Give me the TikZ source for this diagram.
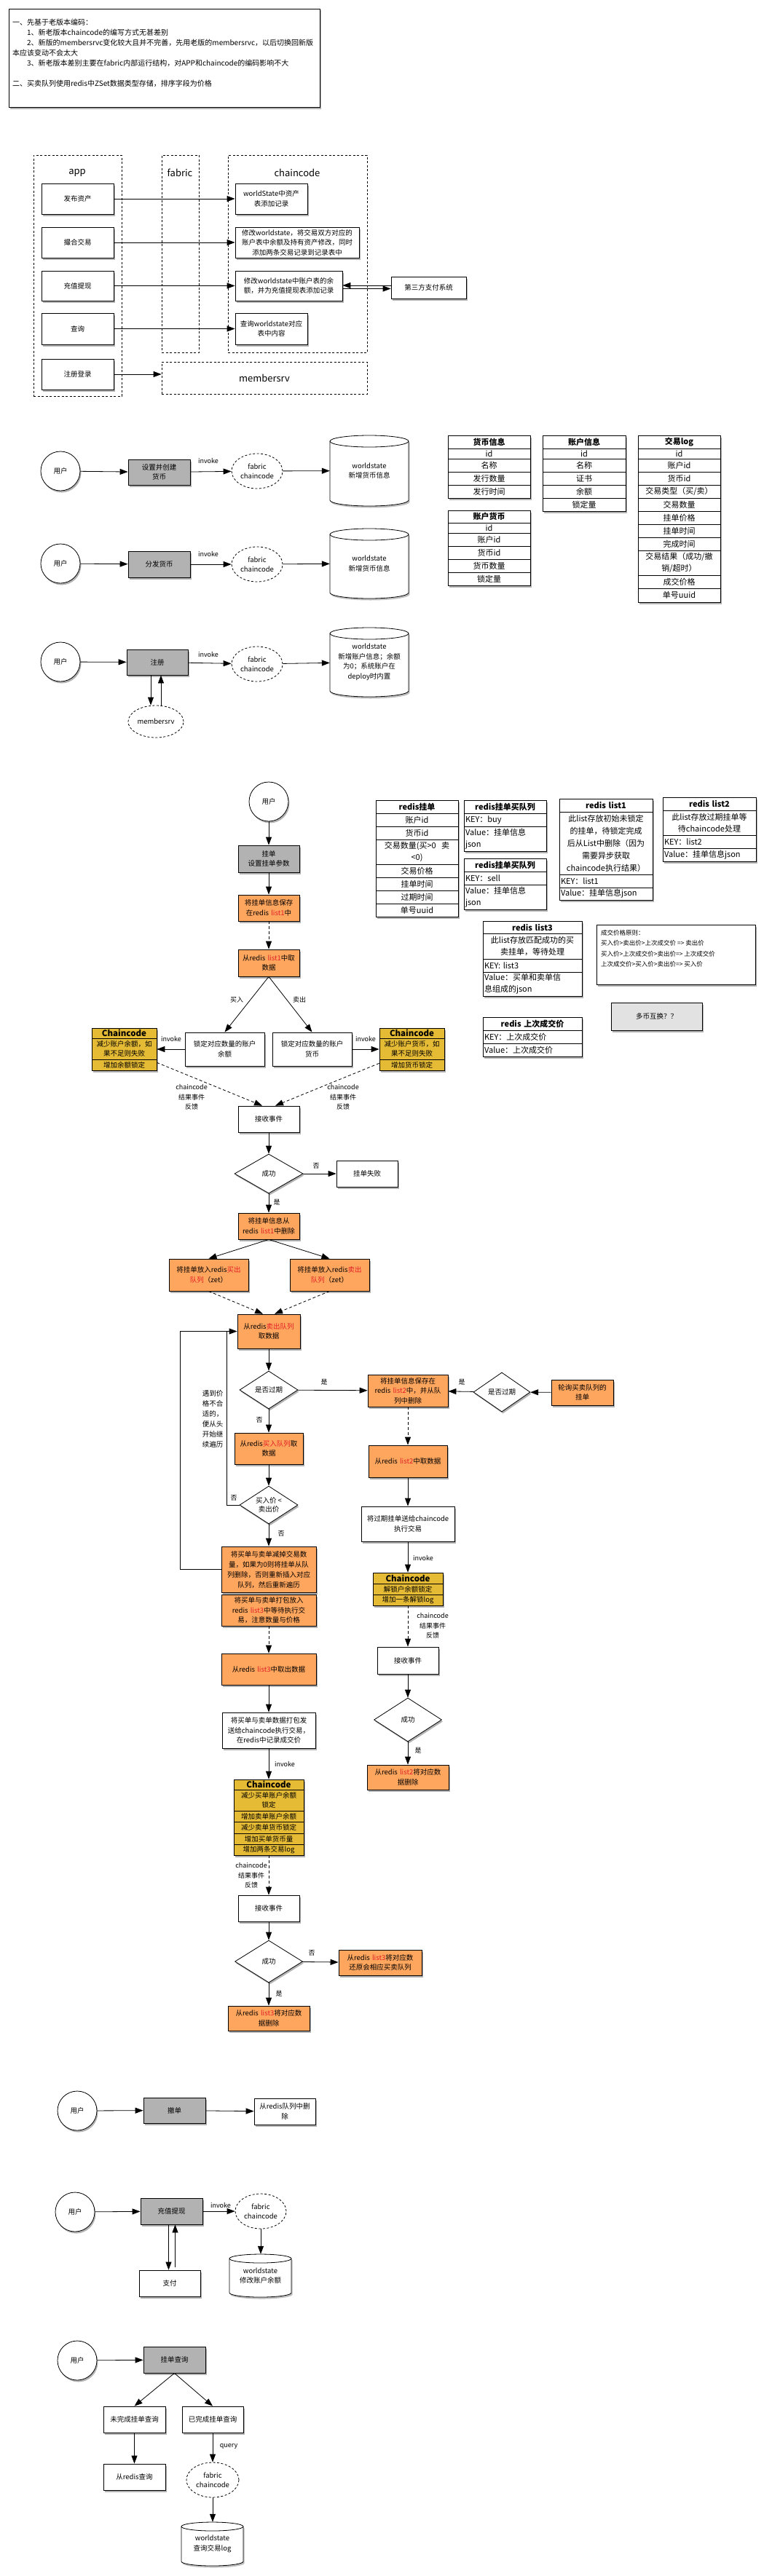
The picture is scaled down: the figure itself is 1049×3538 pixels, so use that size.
\documentclass[tikz,border=0pt]{standalone}
\usepackage{fontspec}
\setmainfont{Noto Sans CJK SC}
\usetikzlibrary{arrows.meta,shapes.geometric,shadows}
\definecolor{orng}{RGB}{255,166,94}
\definecolor{gld}{RGB}{229,186,52}
\definecolor{gryf}{RGB}{178,178,178}
\definecolor{lgry}{RGB}{226,226,226}
\definecolor{redt}{RGB}{226,30,38}
\newcommand\fsz[2]{\fontsize{#1}{#2}\selectfont}
\newcommand\rd[1]{\textcolor{redt}{#1}}
\newcommand\nd[7][]{%
  \pgfmathsetmacro\ndw{#5-(#3)}%
  \pgfmathsetmacro\ndh{#6-(#4)}%
  \pgfmathsetmacro\ndtw{#5-(#3)-4}%
  \node[#1, minimum width=\ndw pt, minimum height=\ndh pt, text width=\ndtw pt] (#2) at ({(#3+#5)/2},{(#4+#6)/2}) {#7};%
}
\newcommand\cyl[7]{%
  \pgfmathsetmacro\cyrx{(#4-(#2))/2}%
  \pgfmathsetmacro\cyyt{#3+#6}\pgfmathsetmacro\cyyb{#5-#6}%
  \fill[black,opacity=0.25] (#2+1.5,\cyyt+2.5) -- (#2+1.5,\cyyb+2.5) arc[start angle=180,end angle=0,x radius=\cyrx,y radius=#6] -- (#4+1.5,\cyyt+2.5) arc[start angle=0,end angle=-180,x radius=\cyrx,y radius=#6] -- cycle;
  \draw[line width=0.8pt,fill=white] (#2,\cyyt) -- (#2,\cyyb) arc[start angle=180,end angle=0,x radius=\cyrx,y radius=#6] -- (#4,\cyyt) arc[start angle=0,end angle=-180,x radius=\cyrx,y radius=#6] -- cycle;
  \draw[line width=0.8pt] (#2,\cyyt) arc[start angle=180,end angle=0,x radius=\cyrx,y radius=#6];
  \pgfmathsetmacro\cyw{#4-(#2)}\pgfmathsetmacro\cyh{#5-(#3)}%
  \node[font=\fsz{9.5}{13.5}, align=center, minimum width=\cyw pt, minimum height=\cyh pt, inner sep=0pt] (#1) at ({(#2+#4)/2},{(#3+#5)/2}) {#7};%
}
\tikzset{
  shd/.style={drop shadow={shadow xshift=1.5pt,shadow yshift=-2.5pt,opacity=0.3,fill=black}},
  bx/.style={draw, fill=white, line width=0.8pt, font=\fsz{9.5}{13.5}, align=center, inner xsep=2pt, inner ysep=0pt, shd},
  obx/.style={bx, fill=orng},
  gbx/.style={bx, fill=gryf},
  cont/.style={draw, line width=0.8pt, dash pattern=on 3pt off 2.5pt, inner xsep=2pt, inner ysep=0pt, font=\fsz{13}{16}, align=center},
  cl/.style={draw, fill=white, line width=0.8pt, font=\fsz{11}{16}, align=center, inner xsep=2pt, inner ysep=0pt},
  clh/.style={cl, font=\fsz{11}{16}\bfseries},
  cll/.style={cl, align=left},
  tbg/.style={draw, fill=white, line width=0.8pt, inner xsep=2pt, inner ysep=0pt, shd},
  ccg/.style={tbg, fill=gld},
  cc/.style={cl, fill=gld, font=\fsz{9.5}{13.5}},
  cch/.style={cc, font=\fsz{11.5}{14}\bfseries},
  dia/.style={diamond, aspect=1.5, draw, fill=white, line width=0.8pt, inner sep=0pt, font=\fsz{9.5}{12.5}, align=center, shd},
  fab/.style={ellipse, draw, fill=white, line width=0.8pt, dash pattern=on 3pt off 2.5pt, inner sep=0pt, minimum width=70pt, minimum height=48pt, font=\fsz{9.5}{13}, align=center},
  usr/.style={circle, draw, fill=white, line width=0.8pt, minimum size=54pt, inner sep=0pt, font=\fsz{9.5}{13}, shd},
  lbl/.style={font=\fsz{9}{13.5}, align=center, inner sep=1pt},
  arr/.style={line width=0.8pt, -{Triangle[length=11pt,width=8pt]}},
  darr/.style={arr, dash pattern=on 4pt off 3pt},
}
\begin{document}
\begin{tikzpicture}[x=1pt,y=-1pt]
\useasboundingbox (0,0) rectangle (1049,3538);
\fill[white] (0,0) rectangle (1049,3538);

% ---------- notes ----------
\nd[tbg]{notes}{12}{12}{439}{147}{}
\node[anchor=north west, font=\fsz{10}{14}, align=left, inner sep=0pt] (notestxt) at (17,26) {一、先基于老版本编码：\\
\hspace*{20pt}1、新老版本chaincode的编写方式无甚差别\\
\hspace*{20pt}2、新版的membersrvc变化较大且并不完善，先用老版的membersrvc，以后切换回新版\\
本应该变动不会太大\\
\hspace*{20pt}3、新老版本差别主要在fabric内部运行结构，对APP和chaincode的编码影响不大\\
\mbox{}\\
二、买卖队列使用redis中ZSet数据类型存储，排序字段为价格};

% ---------- architecture ----------
\nd[cont]{appc}{46}{213}{167}{544}{}
\nd[cont]{fabc}{222}{213}{273}{484}{}
\nd[cont]{ccc}{313}{213}{504}{484}{}
\nd[cont]{msrv}{222}{497}{504}{541}{membersrv}
\node[font=\fsz{13}{16}] (applbl) at (106,237) {app};
\node[font=\fsz{13}{16}] (fablbl) at (247,237) {fabric};
\node[font=\fsz{13}{16}] (cclbl) at (408,237) {chaincode};
\nd[bx]{a1}{57}{252}{156}{294}{发布资产}
\nd[bx]{a2}{57}{312}{156}{354}{撮合交易}
\nd[bx]{a3}{57}{372}{156}{413}{充值提现}
\nd[bx]{a4}{57}{430}{156}{473}{查询}
\nd[bx]{a5}{57}{493}{156}{535}{注册登录}
\nd[bx]{k1}{323}{252}{422}{294}{worldState中资产\\表添加记录}
\nd[bx]{k2}{323}{312}{493}{354}{修改worldstate，将交易双方对应的\\账户表中余额及持有资产修改，同时\\添加两条交易记录到记录表中}
\nd[bx]{k3}{323}{372}{470}{413}{修改worldstate中账户表的余\\额，并为充值提现表添加记录}
\nd[bx]{k4}{323}{430}{422}{473}{查询worldstate对应\\表中内容}
\nd[bx]{tp}{537}{380}{640}{410}{第三方支付系统}
\draw[arr] (a1) -- (k1);
\draw[arr] (a2) -- (k2);
\draw[arr] (a3) -- (k3);
\draw[arr] (a4) -- (k4);
\draw[arr] (a5.east) -- (a5.east -| msrv.west);
\coordinate (tpa) at ([yshift=3pt]tp.west);
\draw[arr] (tpa) -- (tpa -| k3.east);
\coordinate (tpb) at ([yshift=-4pt]k3.east);
\draw[arr] (tpb) -- (tpb -| tp.west);

% ---------- three flows ----------
\node[usr] (u1) at (83,647) {用户};
\nd[gbx]{s1}{176}{631}{261}{666}{设置并创建\\货币}
\node[fab] (f1) at (353,647) {fabric\\chaincode};
\cyl{w1}{453}{598}{561}{695}{8}{worldstate\\新增货币信息}
\draw[arr] (u1) -- (s1);
\draw[arr] (s1) -- (f1);
\node[lbl] (inv1) at (286,633) {invoke};
\draw[arr] (f1) -- (w1);

\node[usr] (u2) at (83,774) {用户};
\nd[gbx]{s2}{176}{757}{261}{793}{分发货币}
\node[fab] (f2) at (353,775) {fabric\\chaincode};
\cyl{w2}{453}{726}{561}{822}{8}{worldstate\\新增货币信息}
\draw[arr] (u2) -- (s2);
\draw[arr] (s2) -- (f2);
\node[lbl] (inv2) at (286,761) {invoke};
\draw[arr] (f2) -- (w2);

\node[usr] (u3) at (83,909) {用户};
\nd[gbx]{s3}{174}{892}{258}{927}{注册}
\node[fab] (f3) at (353,912) {fabric\\chaincode};
\cyl{w3}{453}{862}{561}{957}{8}{worldstate\\新增账户信息；余额\\为0；系统账户在\\deploy时内置}
\draw[arr] (u3) -- (s3);
\draw[arr] (s3) -- (f3);
\node[lbl] (inv3) at (286,899) {invoke};
\draw[arr] (f3) -- (w3);
\node[fab, minimum width=76pt, minimum height=44pt] (m3) at (214,991) {membersrv};
\coordinate (s3d) at ([xshift=-9pt]s3.south);
\coordinate (s3u) at ([xshift=5pt]s3.south);
\draw[arr] (s3d) -- (s3d |- m3.north);
\draw[arr] (s3u |- m3.north) -- (s3u);

% ---------- tables ----------
\nd[tbg]{t1}{615}{598}{728}{684}{}
\nd[clh]{t1h}{615}{598}{728}{616}{货币信息}
\nd[cl]{t1a}{615}{616}{728}{630}{id}
\nd[cl]{t1b}{615}{630}{728}{648}{名称}
\nd[cl]{t1c}{615}{648}{728}{666}{发行数量}
\nd[cl]{t1d}{615}{666}{728}{684}{发行时间}

\nd[tbg]{t2}{615}{701}{728}{804}{}
\nd[clh]{t2h}{615}{701}{728}{718}{账户货币}
\nd[cl]{t2a}{615}{718}{728}{732}{id}
\nd[cl]{t2b}{615}{732}{728}{750}{账户id}
\nd[cl]{t2c}{615}{750}{728}{768}{货币id}
\nd[cl]{t2d}{615}{768}{728}{786}{货币数量}
\nd[cl]{t2e}{615}{786}{728}{804}{锁定量}

\nd[tbg]{t3}{745}{598}{859}{702}{}
\nd[clh]{t3h}{745}{598}{859}{616}{账户信息}
\nd[cl]{t3a}{745}{616}{859}{630}{id}
\nd[cl]{t3b}{745}{630}{859}{648}{名称}
\nd[cl]{t3c}{745}{648}{859}{666}{证书}
\nd[cl]{t3d}{745}{666}{859}{684}{余额}
\nd[cl]{t3e}{745}{684}{859}{702}{锁定量}

\nd[tbg]{t4}{876}{598}{989}{827}{}
\nd[clh]{t4h}{876}{598}{989}{616}{交易log}
\nd[cl]{t4a}{876}{616}{989}{630}{id}
\nd[cl]{t4b}{876}{630}{989}{648}{账户id}
\nd[cl]{t4c}{876}{648}{989}{666}{货币id}
\nd[cl]{t4d}{876}{666}{989}{684}{交易类型（买/卖）}
\nd[cl]{t4e}{876}{684}{989}{702}{交易数量}
\nd[cl]{t4f}{876}{702}{989}{720}{挂单价格}
\nd[cl]{t4g}{876}{720}{989}{738}{挂单时间}
\nd[cl]{t4i}{876}{738}{989}{756}{完成时间}
\nd[cl]{t4j}{876}{756}{989}{790}{交易结果（成功/撤\\销/超时）}
\nd[cl]{t4k}{876}{790}{989}{808}{成交价格}
\nd[cl]{t4l}{876}{808}{989}{827}{单号uuid}

\nd[tbg]{t5}{516}{1099}{629}{1259}{}
\nd[clh]{t5h}{516}{1099}{629}{1117}{redis挂单}
\nd[cl]{t5a}{516}{1117}{629}{1135}{账户id}
\nd[cl]{t5b}{516}{1135}{629}{1153}{货币id}
\nd[cl]{t5c}{516}{1153}{629}{1187}{交易数量(买>0 \ 卖\\<0)}
\nd[cl]{t5d}{516}{1187}{629}{1205}{交易价格}
\nd[cl]{t5e}{516}{1205}{629}{1223}{挂单时间}
\nd[cl]{t5f}{516}{1223}{629}{1241}{过期时间}
\nd[cl]{t5g}{516}{1241}{629}{1259}{单号uuid}

\nd[tbg]{t6}{637}{1099}{750}{1169}{}
\nd[clh]{t6h}{637}{1099}{750}{1117}{redis挂单买队列}
\nd[cll]{t6a}{637}{1117}{750}{1135}{KEY：buy}
\nd[cll]{t6b}{637}{1135}{750}{1169}{Value：挂单信息\\json}

\nd[tbg]{t7}{637}{1179}{750}{1249}{}
\nd[clh]{t7h}{637}{1179}{750}{1197}{redis挂单买队列}
\nd[cll]{t7a}{637}{1197}{750}{1215}{KEY：sell}
\nd[cll]{t7b}{637}{1215}{750}{1249}{Value：挂单信息\\json}

\nd[tbg]{t8}{768}{1097}{896}{1236}{}
\nd[clh]{t8h}{768}{1097}{896}{1115}{redis list1}
\nd[cl, font=\fsz{11}{17}]{t8a}{768}{1115}{896}{1201}{此list存放初始未锁定\\的挂单，待锁定完成\\后从List中删除（因为\\需要异步获取\\chaincode执行结果）}
\nd[cll]{t8b}{768}{1201}{896}{1219}{KEY：list1}
\nd[cll]{t8c}{768}{1219}{896}{1236}{Value：挂单信息json}

\nd[tbg]{t9}{910}{1095}{1038}{1183}{}
\nd[clh]{t9h}{910}{1095}{1038}{1113}{redis list2}
\nd[cl]{t9a}{910}{1113}{1038}{1147}{此list存放过期挂单等\\待chaincode处理}
\nd[cll]{t9b}{910}{1147}{1038}{1165}{KEY：list2}
\nd[cll]{t9c}{910}{1165}{1038}{1183}{Value：挂单信息json}

\nd[tbg]{t10}{663}{1265}{799}{1368}{}
\nd[clh]{t10h}{663}{1265}{799}{1282}{redis list3}
\nd[cl]{t10a}{663}{1282}{799}{1317}{此list存放匹配成功的买\\卖挂单，等待处理}
\nd[cll]{t10b}{663}{1317}{799}{1335}{KEY: list3}
\nd[cll]{t10c}{663}{1335}{799}{1368}{Value：买单和卖单信\\息组成的json}

\nd[tbg]{t11}{663}{1397}{799}{1451}{}
\nd[clh]{t11h}{663}{1397}{799}{1415}{redis 上次成交价}
\nd[cll]{t11a}{663}{1415}{799}{1433}{KEY：上次成交价}
\nd[cll]{t11b}{663}{1433}{799}{1451}{Value：上次成交价}

\nd[tbg]{rule}{819}{1270}{1037}{1352}{}
\node[anchor=north west, font=\fsz{8.5}{14.5}, align=left, inner sep=0pt] (ruletxt) at (825,1277) {成交价格原则：\\买入价>卖出价>上次成交价 => 卖出价\\买入价>上次成交价>卖出价=> 上次成交价\\上次成交价>买入价>卖出价=> 买入价};
\nd[bx, fill=lgry]{multi}{839}{1377}{964}{1415}{多币互换？？}

% ---------- main order flow ----------
\node[usr] (g1) at (369,1101) {用户};
\nd[gbx]{g2}{327}{1161}{411}{1198}{挂单\\设置挂单参数}
\nd[obx]{g3}{327}{1229}{411}{1265}{将挂单信息保存\\在redis \rd{list1}中}
\nd[obx]{g4}{327}{1304}{411}{1341}{从redis \rd{list1}中取\\数据}
\nd[bx]{g5}{254}{1418}{363}{1464}{锁定对应数量的账户\\余额}
\nd[bx]{g6}{374}{1418}{483}{1464}{锁定对应数量的账户\\货币}
\nd[ccg]{cc1}{126}{1412}{215}{1470}{}
\nd[cch]{cc1a}{126}{1412}{215}{1426}{Chaincode}
\nd[cc]{cc1b}{126}{1426}{215}{1455}{减少账户余额，如\\果不足则失败}
\nd[cc]{cc1c}{126}{1455}{215}{1470}{增加余额锁定}
\nd[ccg]{cc2}{521}{1412}{610}{1470}{}
\nd[cch]{cc2a}{521}{1412}{610}{1426}{Chaincode}
\nd[cc]{cc2b}{521}{1426}{610}{1455}{减少账户货币，如\\果不足则失败}
\nd[cc]{cc2c}{521}{1455}{610}{1470}{增加货币锁定}
\nd[bx]{g7}{327}{1519}{411}{1555}{接收事件}
\node[dia, minimum width=94pt, minimum height=54pt] (g8) at (369,1612) {成功};
\nd[bx]{g9}{462}{1594}{546}{1630}{挂单失败}
\nd[obx]{g10}{327}{1666}{411}{1702}{将挂单信息从\\redis \rd{list1}中删除}
\nd[obx]{g11}{232}{1729}{341}{1773}{将挂单放入redis\rd{买出}\\\rd{队列}（zet）}
\nd[obx]{g12}{398}{1729}{507}{1773}{将挂单放入redis\rd{卖出}\\\rd{队列}（zet）}
\nd[obx]{g13}{326}{1805}{412}{1852}{从redis\rd{卖出队列}\\取数据}
\node[dia, minimum width=80pt, minimum height=52pt] (g14) at (369,1909) {是否过期};
\nd[obx]{g15}{505}{1888}{615}{1932}{将挂单信息保存在\\redis \rd{list2}中，并从队\\列中删除}
\nd[obx]{g16}{322}{1968}{416}{2011}{从redis\rd{买入队列}取\\数据}
\node[dia, minimum width=80pt, minimum height=52pt] (g17) at (369,2067) {买入价 <\\卖出价};
\nd[obx, font=\fsz{9.5}{14}]{g18}{304}{2124}{434}{2187}{将买单与卖单减掉交易数\\量，如果为0则将挂单从队\\列删除，否则重新插入对应\\队列，然后重新遍历}
\nd[obx]{g19}{304}{2190}{434}{2233}{将买单与卖单打包放入\\redis \rd{list3}中等待执行交\\易，注意数量与价格}
\nd[obx]{g20}{304}{2271}{434}{2314}{从redis \rd{list3}中取出数据}
\nd[bx]{g21}{305}{2352}{433}{2401}{将买单与卖单数据打包发\\送给chaincode执行交易，\\在redis中记录成交价}
\nd[ccg]{cc3}{321}{2444}{417}{2548}{}
\nd[cch]{cc3a}{321}{2444}{417}{2458}{Chaincode}
\nd[cc]{cc3b}{321}{2458}{417}{2487}{减少买单账户余额\\锁定}
\nd[cc]{cc3c}{321}{2487}{417}{2502}{增加卖单账户余额}
\nd[cc]{cc3d}{321}{2502}{417}{2518}{减少卖单货币锁定}
\nd[cc]{cc3e}{321}{2518}{417}{2533}{增加买单货币量}
\nd[cc]{cc3f}{321}{2533}{417}{2548}{增加两条交易log}
\nd[bx]{g22}{327}{2603}{411}{2639}{接收事件}
\node[dia, minimum width=93pt, minimum height=58pt] (g23) at (369,2694) {成功};
\nd[obx]{g24}{465}{2678}{579}{2713}{从redis \rd{list3}将对应数\\还原会相应买卖队列}
\nd[obx]{g25}{313}{2755}{425}{2789}{从redis \rd{list3}将对应数\\据删除}

% right column
\nd[obx]{r1}{757}{1895}{842}{1930}{轮询买卖队列的\\挂单}
\node[dia, minimum width=78pt, minimum height=54pt] (r2) at (689,1912) {是否过期};
\nd[obx]{r3}{506}{1985}{614}{2029}{从redis \rd{list2}中取数据}
\nd[bx]{r4}{496}{2069}{624}{2117}{将过期挂单送给chaincode\\执行交易}
\nd[ccg]{r5}{512}{2160}{608}{2205}{}
\nd[cch]{r5a}{512}{2160}{608}{2175}{Chaincode}
\nd[cc]{r5b}{512}{2175}{608}{2190}{解锁户余额锁定}
\nd[cc]{r5c}{512}{2190}{608}{2205}{增加一条解锁log}
\nd[bx]{r6}{518}{2262}{602}{2299}{接收事件}
\node[dia, minimum width=93pt, minimum height=60pt] (r7) at (560,2362) {成功};
\nd[obx]{r8}{504}{2424}{616}{2458}{从redis \rd{list2}将对应数\\据删除}

% connectors main flow
\draw[arr] (g1) -- (g2);
\draw[arr] (g2) -- (g3);
\draw[darr] (g3) -- (g4);
\draw[arr] (g4.south) -- (g5.north);
\draw[arr] (g4.south) -- (g6.north);
\node[lbl] (lbuy) at (325,1373) {买入};
\node[lbl] (lsell) at (411,1373) {卖出};
\draw[arr] (g5) -- (cc1);
\draw[arr] (g6) -- (cc2);
\node[lbl] (linv1) at (235,1427) {invoke};
\node[lbl] (linv2) at (502,1427) {invoke};
\draw[darr] ([yshift=11pt]cc1.south east) -- ([xshift=-9pt]g7.north);
\draw[darr] ([yshift=10pt]cc2.south west) -- ([xshift=9pt]g7.north);
\node[lbl] (lres1) at (263,1507) {chaincode\\结果事件\\反馈};
\node[lbl] (lres2) at (471,1507) {chaincode\\结果事件\\反馈};
\draw[arr] (g7) -- (g8);
\draw[arr] (g8) -- (g9);
\node[lbl] (lno1) at (434,1601) {否};
\draw[arr] (g8) -- (g10);
\node[lbl] (lyes1) at (380,1651) {是};
\draw[arr] (g10.south) -- (g11.north);
\draw[arr] (g10.south) -- (g12.north);
\draw[darr] (g11.south) -- ([xshift=-8pt]g13.north);
\draw[darr] (g12.south) -- ([xshift=8pt]g13.north);
\draw[arr] (g13) -- (g14);
\draw[arr] (g14) -- (g15);
\node[lbl] (lyes2) at (445,1898) {是};
\draw[arr] (g14) -- (g16);
\node[lbl] (lno2) at (356,1950) {否};
\draw[arr] (g16) -- (g17);
\coordinate (lpin) at (311,2067);
\draw[arr] (g17.west) -- (lpin) |- (g13.west);
\node[lbl] (lno3) at (321,2057) {否};
\draw[arr] (g17.south) -- (g17.south |- g18.north);
\node[lbl] (lno4) at (386,2106) {否};
\coordinate (lpout) at (247,2155.5);
\coordinate (lpjoin) at (311,1828.5);
\draw[line width=0.8pt] (g18.west) -- (lpout) |- (lpjoin);
\node[font=\fsz{9.5}{14}, align=center, inner sep=0pt] (looptxt) at (292,1949) {遇到价\\格不合\\适的，\\便从头\\开始继\\续遍历};
\draw[darr] (g19) -- (g20);
\draw[arr] (g20) -- (g21);
\draw[arr] (g21) -- (cc3);
\node[lbl] (linv3) at (391,2423) {invoke};
\draw[darr] (cc3) -- (g22);
\node[lbl] (lres3) at (345,2576) {chaincode\\结果事件\\反馈};
\draw[arr] (g22) -- (g23);
\draw[arr] (g23) -- (g24);
\node[lbl] (lno5) at (428,2682) {否};
\draw[arr] (g23) -- (g25);
\node[lbl] (lyes5) at (383,2738) {是};

\draw[arr] (r1) -- (r2);
\draw[arr] (r2) -- (g15);
\node[lbl] (lyes3) at (634,1898) {是};
\draw[darr] (g15) -- (r3);
\draw[arr] (r3) -- (r4);
\draw[arr] (r4) -- (r5);
\node[lbl] (linv4) at (581,2140) {invoke};
\draw[darr] (r5) -- (r6);
\node[lbl] (lres4) at (594,2233) {chaincode\\结果事件\\反馈};
\draw[arr] (r6) -- (r7);
\draw[arr] (r7) -- (r8);
\node[lbl] (lyes4) at (574,2404) {是};

% ---------- cancel ----------
\node[usr] (b1) at (106,2899) {用户};
\nd[gbx]{b2}{197}{2881}{282}{2916}{撤单}
\nd[bx]{b3}{349}{2882}{433}{2918}{从redis队列中删\\除}
\draw[arr] (b1) -- (b2);
\draw[arr] (b2) -- (b3);

% ---------- deposit ----------
\node[usr] (b4) at (103,3038) {用户};
\nd[gbx]{b5}{193}{3019}{278}{3055}{充值提现}
\node[fab] (b6) at (358,3037) {fabric\\chaincode};
\cyl{b7}{315}{3096}{400}{3155}{6}{worldstate\\修改账户余额}
\nd[bx]{b8}{191}{3118}{275}{3154}{支付}
\draw[arr] (b4) -- (b5);
\draw[arr] (b5) -- (b6);
\node[lbl] (linv6) at (303,3029) {invoke};
\draw[arr] (b6.south) -- (b6.south |- b7.north);
\coordinate (b5d) at ([xshift=-4pt]b5.south);
\coordinate (b5u) at ([xshift=5pt]b5.south);
\draw[arr] (b5d) -- (b5d |- b8.north);
\draw[arr] ([yshift=4pt]b5u |- b8.north) -- (b5u);

% ---------- query ----------
\node[usr] (q1) at (106,3242) {用户};
\nd[gbx]{q2}{197}{3223}{282}{3259}{挂单查询}
\nd[bx]{q3}{142}{3305}{227}{3341}{未完成挂单查询}
\nd[bx]{q4}{250}{3305}{334}{3341}{已完成挂单查询}
\nd[bx]{q5}{142}{3384}{227}{3420}{从redis查询}
\node[fab, minimum width=72pt] (q6) at (292,3406) {fabric\\chaincode};
\cyl{q7}{249}{3464}{334}{3524}{6}{worldstate\\查询交易log}
\draw[arr] (q1) -- (q2);
\draw[arr] (q2.south) -- (q3.north);
\draw[arr] (q2.south) -- (q4.north);
\draw[arr] (q3) -- (q5);
\draw[arr] (q4) -- (q6);
\node[lbl] (lqry) at (314,3360) {query};
\draw[arr] (q6.south) -- (q6.south |- q7.north);
\end{tikzpicture}
\end{document}
